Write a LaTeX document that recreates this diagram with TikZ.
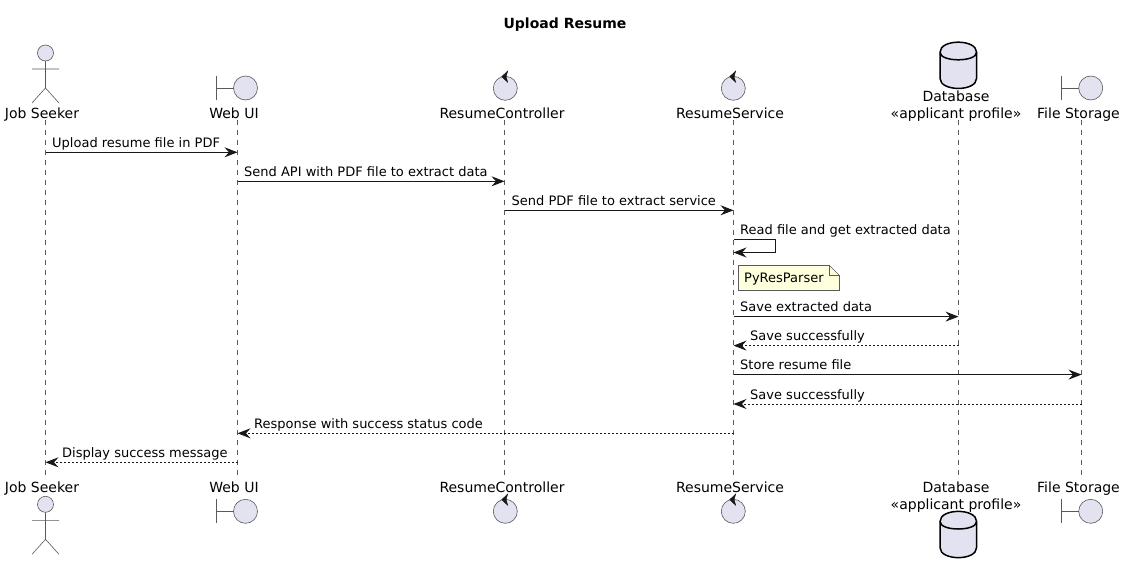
\documentclass[tikz,border=0pt]{standalone}
\usepackage{fontspec}
\setmainfont{DejaVu Sans}
\usetikzlibrary{arrows.meta,calc}
\definecolor{partfill}{HTML}{E2E2F0}
\definecolor{ink}{HTML}{181818}
\definecolor{thin}{HTML}{5A5A5A}
\definecolor{notefill}{HTML}{FEFFDD}
\tikzset{
  partshape/.style={draw=thin,line width=0.6pt,fill=partfill},
  partstroke/.style={draw=thin,line width=0.6pt},
  dbshape/.style={draw=black,line width=1.5pt,fill=partfill},
  lifeline/.style={draw=thin,line width=0.6pt,dash pattern=on 5pt off 5pt},
  partlabel/.style={inner sep=0pt,anchor=base,align=center,font=\fontsize{14}{17}\selectfont,text=black},
  msglabel/.style={inner sep=0pt,anchor=base west,font=\fontsize{13}{15}\selectfont,text=black},
  msgline/.style={draw=ink,line width=1pt,-{Stealth[length=13pt,width=10pt,inset=4.5pt,fill=ink]}},
  replyline/.style={msgline,dash pattern=on 2pt off 2pt},
}
\newcommand{\actorfig}[2]{% x, head y
  \draw[partshape] (#1,#2) circle[radius=8];
  \draw[partstroke] (#1,#2+8) -- (#1,#2+35) (#1-13.5,#2+16) -- (#1+13.5,#2+16)
    (#1-13.5,#2+50) -- (#1,#2+35) -- (#1+13.5,#2+50);
}
\newcommand{\boundaryfig}[2]{% circle x, y
  \draw[partshape] (#1,#2) circle[radius=12];
  \draw[partstroke] (#1-29,#2-12) -- (#1-29,#2+12) (#1-29,#2) -- (#1-12,#2);
}
\newcommand{\controlfig}[2]{% circle x, y
  \draw[partshape] (#1,#2) circle[radius=12];
  \filldraw[ink,line width=0.4pt,line join=miter] (#1+2.4,#2-17.3) -- (#1-3.6,#2-11.6) -- (#1+2.4,#2-6) -- (#1+0.8,#2-11.6) -- cycle;
}
\newcommand{\dbfig}[2]{% centre x, top y
  \draw[dbshape] (#1-18.3,#2+10) .. controls (#1-18.3,#2-3.5) and (#1+18.3,#2-3.5) .. (#1+18.3,#2+10)
    -- (#1+18.3,#2+36) .. controls (#1+18.3,#2+49.5) and (#1-18.3,#2+49.5) .. (#1-18.3,#2+36) -- cycle;
  \draw[dbshape,fill=none] (#1-18.3,#2+10) .. controls (#1-18.3,#2+20) and (#1+18.3,#2+20) .. (#1+18.3,#2+10);
}
\newcommand{\msgarrow}[5]{% id, from, to, y, style
  \coordinate (#1a) at (#2|-0,#4);
  \coordinate (#1b) at (#3|-0,#4);
  \draw[#5] (#1a) -- (#1b);
}
\begin{document}
\begin{tikzpicture}[x=1pt,y=-1pt]
\useasboundingbox (0,0) rectangle (1126,573);
\fill[white] (0,0) rectangle (1126,573);
\node[inner sep=0pt,anchor=base,font=\fontsize{14}{17}\selectfont\bfseries] (title) at (565,28) {Upload Resume};

% lifeline anchors
\coordinate (jsT) at (45.5,120);   \coordinate (jsB) at (45.5,475);
\coordinate (webT) at (237.5,120); \coordinate (webB) at (237.5,475);
\coordinate (rcT) at (504.5,120);  \coordinate (rcB) at (504.5,475);
\coordinate (rsT) at (733.5,120);  \coordinate (rsB) at (733.5,475);
\coordinate (dbT) at (958.5,120);  \coordinate (dbB) at (958.5,475);
\coordinate (fsT) at (1081.5,120); \coordinate (fsB) at (1081.5,475);
\foreach \n in {js,web,rc,rs,db,fs} \draw[lifeline] (\n T) -- (\n B);

% participants, top
\actorfig{45.5}{53}
\boundaryfig{245.5}{88}
\controlfig{505.3}{88.3}
\controlfig{733.3}{88.3}
\dbfig{958.3}{42.3}
\boundaryfig{1090.7}{88}
\node[partlabel] (jsTop) at (42,118) {Job Seeker};
\node[partlabel] (webTop) at (234,118) {Web UI};
\node[partlabel] (rcTop) at (502,118) {ResumeController};
\node[partlabel] (rsTop) at (730,118) {ResumeService};
\node[partlabel,anchor=base] (dbTop) at (956,118) {\smash{\raisebox{17pt}{Database}}\\[-17pt]«applicant profile»};
\node[partlabel] (fsTop) at (1078.5,118) {File Storage};

% participants, bottom
\actorfig{45.5}{504.3}
\boundaryfig{245.5}{511.3}
\controlfig{505.3}{511.3}
\controlfig{733.3}{511.3}
\dbfig{958.3}{511.5}
\boundaryfig{1090.7}{511.3}
\node[partlabel] (jsBot) at (42,492) {Job Seeker};
\node[partlabel] (webBot) at (234,492) {Web UI};
\node[partlabel] (rcBot) at (502,492) {ResumeController};
\node[partlabel] (rsBot) at (730,492) {ResumeService};
\node[partlabel] (dbBot) at (956,509) {\smash{\raisebox{17pt}{Database}}\\[-17pt]«applicant profile»};
\node[partlabel] (fsBot) at (1078.5,492) {File Storage};

% messages
\msgarrow{m1}{jsT}{webT}{152.3}{msgline}
\node[msglabel] (l1) at (52,147.5) {Upload resume file in PDF};
\msgarrow{m2}{webT}{rcT}{181.3}{msgline}
\node[msglabel] (l2) at (244,176.5) {Send API with PDF file to extract data};
\msgarrow{m3}{rcT}{rsT}{210.3}{msgline}
\node[msglabel] (l3) at (511.5,205.5) {Send PDF file to extract service};

% self message
\coordinate (m4a) at (rsT|-0,239.3);
\coordinate (m4c) at (775.7,239.3);
\coordinate (m4d) at (775.7,252.5);
\coordinate (m4b) at (rsT|-0,252.5);
\draw[msgline] (m4a) -- (m4c) -- (m4d) -- (m4b);
\node[msglabel] (l4) at (740,234.5) {Read file and get extracted data};

% note
\draw[draw=thin,line width=0.6pt,fill=notefill] (738.5,265.5) -- (829.5,265.5) -- (839.5,275.5) -- (839.5,290.5) -- (738.5,290.5) -- cycle;
\draw[draw=thin,line width=0.6pt] (829.5,265.5) -- (829.5,275.5) -- (839.5,275.5);
\node[msglabel] (note) at (744,282.5) {PyResParser};

\msgarrow{m5}{rsT}{dbT}{316.6}{msgline}
\node[msglabel] (l5) at (740,311.7) {Save extracted data};
\msgarrow{m6}{dbT}{rsT}{345.6}{replyline}
\node[msglabel] (l6) at (750,340.7) {Save successfully};
\msgarrow{m7}{rsT}{fsT}{374.6}{msgline}
\node[msglabel] (l7) at (740,369.7) {Store resume file};
\msgarrow{m8}{fsT}{rsT}{404}{replyline}
\node[msglabel] (l8) at (750,399.2) {Save successfully};
\msgarrow{m9}{rsT}{webT}{433.3}{replyline}
\node[msglabel] (l9) at (254,428.5) {Response with success status code};
\msgarrow{m10}{webT}{jsT}{462.3}{replyline}
\node[msglabel] (l10) at (62,457.5) {Display success message};
\end{tikzpicture}
\end{document}
